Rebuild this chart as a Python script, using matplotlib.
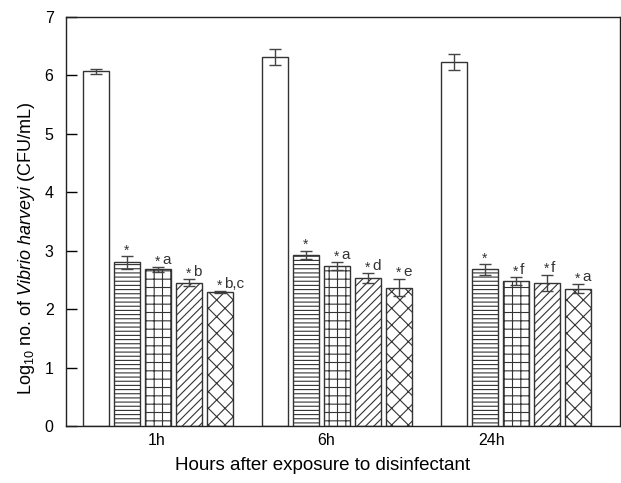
import matplotlib
matplotlib.use("Agg")
import matplotlib.pyplot as plt
import numpy as np

plt.rcParams['font.family'] = ['Liberation Sans', 'DejaVu Sans']
plt.rcParams['mathtext.fontset'] = 'custom'
plt.rcParams['mathtext.rm'] = 'Liberation Sans'
plt.rcParams['mathtext.it'] = 'Liberation Sans:italic'
plt.rcParams['hatch.linewidth'] = 0.8

# ---- data ----
groups = ['1h', '6h', '24h']
control   = [6.07, 6.32, 6.23]
control_e = [0.04, 0.14, 0.13]
trt2   = [2.80, 2.93, 2.68]
trt2_e = [0.11, 0.07, 0.09]
trt3   = [2.68, 2.735, 2.48]
trt3_e = [0.04, 0.07, 0.07]
trt4   = [2.45, 2.535, 2.45]
trt4_e = [0.06, 0.085, 0.14]
trt5   = [2.29, 2.37, 2.35]
trt5_e = [0.02, 0.15, 0.08]
letters2 = ['', '', '']
letters3 = ['a', 'a', 'f']
letters4 = ['b', 'd', 'f']
letters5 = ['b,c', 'e', 'a']
yticks = [0, 1, 2, 3, 4, 5, 6, 7]

series = [
    (control, control_e, '', None),
    (trt2, trt2_e, '----', letters2),
    (trt3, trt3_e, '++', letters3),
    (trt4, trt4_e, '////', letters4),
    (trt5, trt5_e, 'xx', letters5),
]

fig = plt.figure(figsize=(6.21, 4.83), dpi=100)
ax = fig.add_axes([66/621, 57/483, 554/621, 409/483])

step = 31/179
width = 26/179
gx = np.arange(len(groups))
edge = '#333333'
for j, (vals, errs, hatch, lets) in enumerate(series):
    xs = gx + (j - 2) * step
    ax.bar(xs, vals, width=width, color='white', edgecolor=edge, linewidth=1.0,
           hatch=hatch, zorder=2)
    ax.errorbar(xs, vals, yerr=errs, fmt='none', ecolor='#444444', elinewidth=1.0,
                capsize=4.5, capthick=1.0, zorder=3)
    if lets is not None:
        for x, v, e, l in zip(xs, vals, errs, lets):
            top = v + e
            ax.annotate('*', (x, top), xytext=(0, -1), textcoords='offset points',
                        ha='center', va='bottom', fontsize=10, color='#333333')
            if l:
                ax.annotate(l, (x, top), xytext=(3, 0), textcoords='offset points',
                            ha='left', va='bottom', fontsize=11, color='#333333')

ax.set_xlim(-0.514, 2.581)
ax.set_ylim(0, 7)
ax.set_yticks(yticks)
ax.set_yticklabels([str(t) for t in yticks], fontsize=11.5)
tick_shift = [-0.006, -0.061, -0.134]
ax.set_xticks(gx + np.array(tick_shift))
ax.set_xticklabels(groups, fontsize=11.5)
ax.tick_params(axis='y', direction='in', length=8, width=1, pad=9)
ax.tick_params(axis='x', length=0, pad=5)
for s in ax.spines.values():
    s.set_linewidth(1.0)
    s.set_color('#222222')

ax.set_xlabel('Hours after exposure to disinfectant', fontsize=13.5)
ax.xaxis.set_label_coords(0.464, -0.077)
ax.set_ylabel(r'Log$_{10}$ no. of $\it{Vibrio\ harveyi}$ (CFU/mL)', fontsize=13)
ax.yaxis.set_label_coords(-0.053, 0.435)

fig.savefig('out.png', dpi=100)
